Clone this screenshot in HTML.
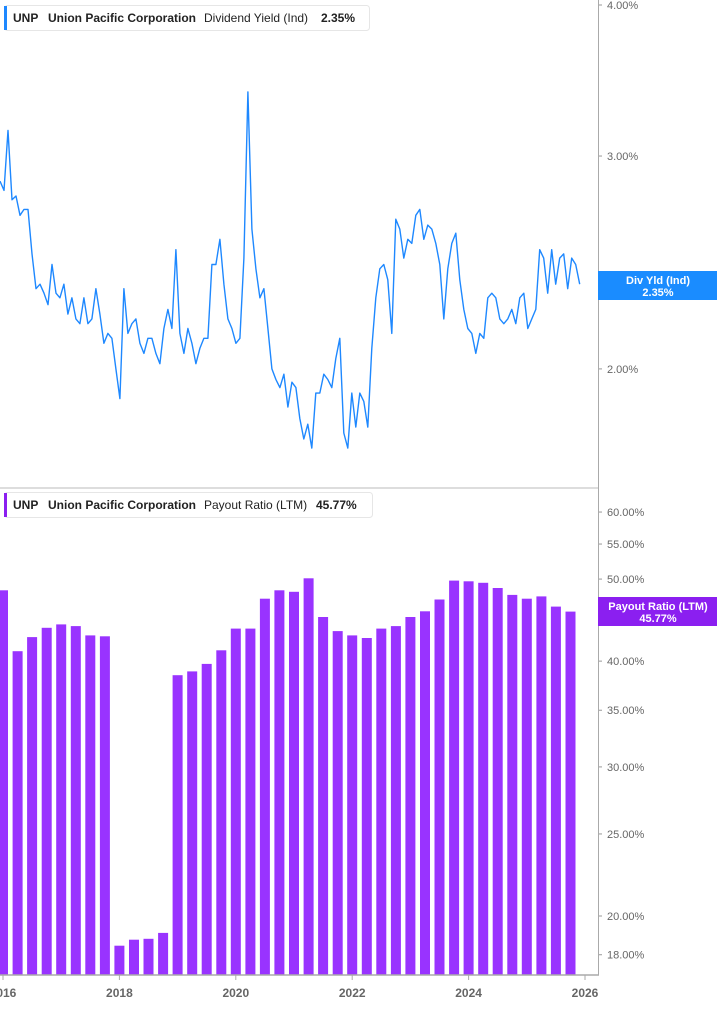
<!DOCTYPE html>
<html><head><meta charset="utf-8">
<style>
html,body{margin:0;padding:0;background:#fff;}
body{width:717px;height:1005px;overflow:hidden;font-family:"Liberation Sans",sans-serif;}
svg text{font-family:"Liberation Sans",sans-serif;}
</style></head>
<body>
<svg id="chart" width="717" height="1005" xmlns="http://www.w3.org/2000/svg">
  <rect x="0" y="0" width="717" height="1005" fill="#fff"/>
  <g id="top-panel"></g>
  <g id="bottom-panel"></g>
  <line x1="0" y1="488" x2="598" y2="488" stroke="#ddd" stroke-width="2"/>
  <line x1="598.5" y1="0" x2="598.5" y2="975" stroke="#aaa" stroke-width="1"/>
  <line x1="0" y1="975" x2="599" y2="975" stroke="#aaa" stroke-width="1.5"/>
  <g id="xaxis"></g>

  <g>
    <rect x="4.5" y="5.5" width="365" height="25" rx="3" fill="#fff" stroke="#e6e6e6"/>
    <rect x="4" y="6" width="3" height="24" fill="#1e88ff"/>
    <text x="13" y="22" font-size="12" font-weight="bold" fill="#222">UNP</text>
    <text x="48" y="22" font-size="12" font-weight="bold" fill="#222">Union Pacific Corporation</text>
    <text x="204" y="22" font-size="12" fill="#222">Dividend Yield (Ind)</text>
    <text x="321" y="22" font-size="12" font-weight="bold" fill="#222">2.35%</text>
  </g>
  <g>
    <rect x="4.5" y="492.5" width="368" height="25" rx="3" fill="#fff" stroke="#e6e6e6"/>
    <rect x="4" y="493" width="3" height="24" fill="#8b1ff0"/>
    <text x="13" y="509" font-size="12" font-weight="bold" fill="#222">UNP</text>
    <text x="48" y="509" font-size="12" font-weight="bold" fill="#222">Union Pacific Corporation</text>
    <text x="204" y="509" font-size="12" fill="#222">Payout Ratio (LTM)</text>
    <text x="316" y="509" font-size="12" font-weight="bold" fill="#222">45.77%</text>
  </g>
  <g>
    <rect x="598" y="271" width="119" height="29" fill="#1a8cff"/>
    <text x="658" y="284" font-size="11" font-weight="bold" fill="#fff" text-anchor="middle">Div Yld (Ind)</text>
    <text x="658" y="296" font-size="11" font-weight="bold" fill="#fff" text-anchor="middle">2.35%</text>
  </g>
  <g>
    <rect x="598" y="597" width="119" height="29" fill="#8b1ff0"/>
    <text x="658" y="610" font-size="11" font-weight="bold" fill="#fff" text-anchor="middle">Payout Ratio (LTM)</text>
    <text x="658" y="622" font-size="11" font-weight="bold" fill="#fff" text-anchor="middle">45.77%</text>
  </g>
</svg>
<script>
// ---- data ----
const yieldStart = 2015.948;
const yieldStep = 0.0687;
const yieldValues = [2.86,2.81,3.15,2.76,2.78,2.68,2.71,2.71,2.49,2.33,2.35,2.31,2.26,2.44,2.31,2.29,2.35,2.22,2.29,2.20,2.18,2.29,2.18,2.20,2.33,2.22,2.10,2.14,2.12,2.00,1.89,2.33,2.14,2.18,2.20,2.10,2.06,2.12,2.12,2.06,2.02,2.16,2.24,2.16,2.51,2.14,2.06,2.16,2.10,2.02,2.08,2.12,2.12,2.44,2.44,2.56,2.35,2.20,2.16,2.10,2.12,2.47,3.39,2.61,2.42,2.29,2.33,2.16,2.00,1.96,1.93,1.98,1.86,1.95,1.93,1.82,1.75,1.80,1.72,1.91,1.91,1.98,1.96,1.93,2.04,2.12,1.77,1.72,1.91,1.79,1.91,1.88,1.79,2.08,2.29,2.42,2.44,2.37,2.14,2.66,2.61,2.47,2.56,2.54,2.68,2.71,2.56,2.63,2.61,2.54,2.44,2.20,2.42,2.54,2.59,2.37,2.24,2.16,2.14,2.06,2.14,2.12,2.29,2.31,2.29,2.20,2.18,2.20,2.24,2.18,2.29,2.31,2.16,2.20,2.24,2.51,2.47,2.31,2.51,2.35,2.47,2.49,2.33,2.47,2.44,2.35];
const payoutQuarters = [2016.0,2016.25,2016.5,2016.75,2017.0,2017.25,2017.5,2017.75,2018.0,2018.25,2018.5,2018.75,2019.0,2019.25,2019.5,2019.75,2020.0,2020.25,2020.5,2020.75,2021.0,2021.25,2021.5,2021.75,2022.0,2022.25,2022.5,2022.75,2023.0,2023.25,2023.5,2023.75,2024.0,2024.25,2024.5,2024.75,2025.0,2025.25,2025.5,2025.75];
const payoutValues = [48.5,41.1,42.7,43.8,44.2,44.0,42.9,42.8,18.45,18.75,18.8,19.1,38.5,38.9,39.7,41.2,43.7,43.7,47.4,48.5,48.3,50.1,45.1,43.4,42.9,42.6,43.7,44.0,45.1,45.8,47.3,49.8,49.7,49.5,48.8,47.9,47.4,47.7,46.4,45.77];
const yieldTicks = [2,3,4];
const yieldTickLabels = ["2.00%","3.00%","4.00%"];
const payoutTicks = [18,20,25,30,35,40,50,55,60];
const payoutTickLabels = ["18.00%","20.00%","25.00%","30.00%","35.00%","40.00%","50.00%","55.00%","60.00%"];
const yearTicks = [2016,2018,2020,2022,2024,2026];
const yearLabels = ["2016","2018","2020","2022","2024","2026"];

// ---- scales ----
const NS = "http://www.w3.org/2000/svg";
function xs(t){ return 3 + (t - 2016) * 58.2; }
function yTop(v){ return 5 + 525 * Math.log(4 / v); }
function yBot(v){ return 916 - 367.7 * Math.log(v / 20); }
function mk(tag, attrs, parent){ const e = document.createElementNS(NS, tag); for (const k in attrs) e.setAttribute(k, attrs[k]); parent.appendChild(e); return e; }

const topPanel = document.getElementById('top-panel');
const botPanel = document.getElementById('bottom-panel');
const xAxisG = document.getElementById('xaxis');

// line
let d = "";
yieldValues.forEach((v, i) => { const t = yieldStart + i * yieldStep; d += (i ? "L" : "M") + xs(t).toFixed(1) + " " + yTop(v).toFixed(1); });
const line = mk('path', {d: d, fill: "none", stroke: "#1e88ff", "stroke-width": "1.4", "stroke-linejoin": "round"}, topPanel);



// bars
payoutQuarters.forEach((q, i) => {
  const y = yBot(payoutValues[i]);
  const r = mk('rect', {x: (xs(q) - 5).toFixed(1), y: y.toFixed(1), width: 10, height: (975 - y).toFixed(1), fill: "#9933ff"}, botPanel);
  
  
});

// y ticks
yieldTicks.forEach((v, i) => {
  const y = yTop(v);
  mk('line', {x1: 599, x2: 602, y1: y, y2: y, stroke: "#999"}, topPanel);
  const t = mk('text', {x: 607, y: y + 4, "font-size": 11, fill: "#666"}, topPanel);
  t.textContent = yieldTickLabels[i];
  
  
});
payoutTicks.forEach((v, i) => {
  const y = yBot(v);
  mk('line', {x1: 599, x2: 602, y1: y, y2: y, stroke: "#999"}, botPanel);
  const t = mk('text', {x: 607, y: y + 4, "font-size": 11, fill: "#666"}, botPanel);
  t.textContent = payoutTickLabels[i];
  
  
});
// x ticks
yearTicks.forEach((yr, i) => {
  const x = xs(yr);
  mk('line', {x1: x, x2: x, y1: 975, y2: 980, stroke: "#aaa"}, xAxisG);
  const t = mk('text', {x: x, y: 997, "font-size": 12, "font-weight": "bold", fill: "#666", "text-anchor": "middle"}, xAxisG);
  t.textContent = yearLabels[i];
  
  
});
</script>
</body></html>
